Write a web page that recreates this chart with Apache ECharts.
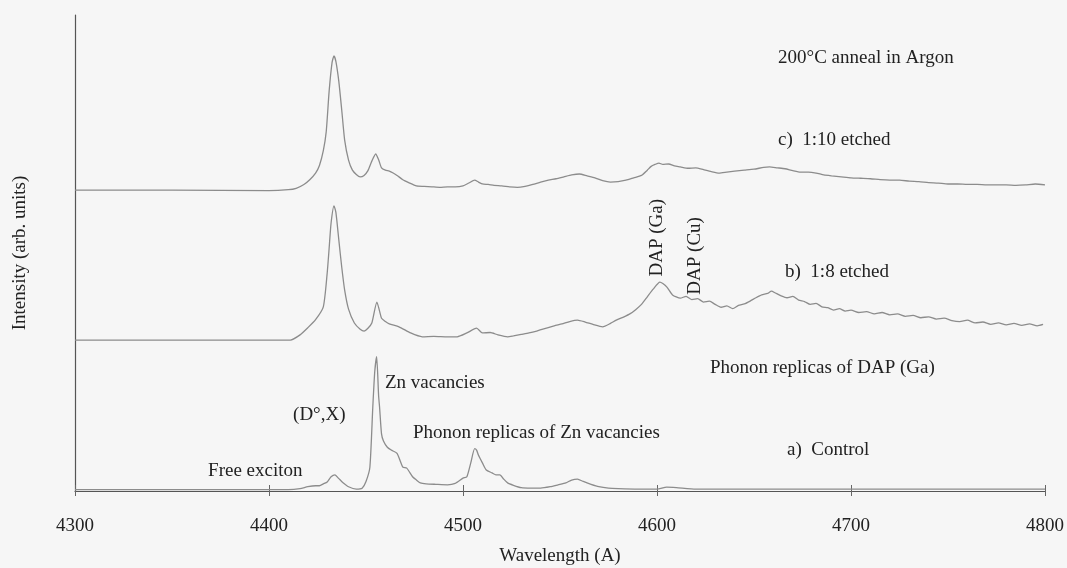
<!DOCTYPE html>
<html>
<head>
<meta charset="utf-8">
<script src="https://cdn.jsdelivr.net/npm/echarts@6/dist/echarts.min.js"></script>
<style>
html,body{margin:0;padding:0;background:#f6f6f6;}
#chart{width:1067px;height:568px;}
</style>
</head>
<body>
<div id="chart"></div>
<script>
// Wavelength (Å) and intensity (arb. units, offset per spectrum)
const cWave = [4300,4350,4400,4410,4414,4418,4421,4424,4426,4428,4429.5,4431,4432.5,4433.5,4434.5,4436,4437.5,4439,4441,4443,4445,4447,4449,4451,4453,4455,4456.5,4458,4460,4462,4464,4466,4469,4472,4476,4480,4484,4488,4492,4496,4500,4503,4506,4508,4510,4513,4516,4520,4524,4528,4532,4536,4540,4544,4548,4552,4556,4560,4564,4568,4572,4576,4580,4584,4588,4592,4595,4597,4599,4601,4603,4606,4609,4612,4616,4620,4624,4628,4632,4636,4640,4645,4650,4655,4658,4662,4666,4670,4674,4678,4682,4686,4690,4695,4700,4705,4710,4715,4720,4725,4730,4735,4740,4745,4750,4755,4760,4765,4770,4775,4780,4785,4790,4795,4800];
const cVal  = [63.2,63.2,63.1,63.3,63.6,64.4,65.4,66.8,68.4,71.5,75.5,84,90,91.4,90.2,86,80,73.7,69.5,67.4,66.5,66.0,66.3,67.3,69.3,70.8,69.6,67.9,67.4,67.2,66.8,66.3,65.4,64.8,64.1,64.0,63.9,63.8,63.9,63.9,64.1,64.7,65.3,64.9,64.5,64.4,64.2,64.1,63.9,63.8,64.0,64.4,64.9,65.3,65.6,66.0,66.4,66.6,66.2,65.8,65.2,64.9,65.0,65.3,65.8,66.3,67.4,68.2,68.6,68.9,68.6,68.7,68.3,68.1,67.8,67.9,67.5,67.1,66.8,67.0,67.2,67.4,67.6,68.0,68.1,67.9,67.7,67.3,67.0,67.0,66.8,66.4,66.2,66.0,65.8,65.7,65.6,65.4,65.3,65.3,65.1,65.0,64.8,64.7,64.5,64.5,64.4,64.4,64.3,64.3,64.3,64.2,64.3,64.5,64.3];

const bWave = [4300,4350,4400,4411,4416,4420,4424,4428,4430,4431,4432,4433.5,4434.5,4436,4437.5,4439,4441,4444,4447,4449,4451,4453,4455.6,4457,4458,4460,4462,4467,4473,4479,4485,4492,4497,4502,4507,4510,4514,4518,4523,4526,4530,4534,4538,4543,4547,4551,4555,4559,4563,4567,4572,4576,4579,4583,4586,4589,4592,4595,4598,4601.5,4603,4605,4608,4612,4615,4618,4621,4624,4627,4630,4633,4636,4639,4642,4645,4648,4651,4654,4657,4659,4661,4664,4667,4670,4673,4676,4679,4682,4685,4688,4691,4694,4697,4700,4704,4708,4712,4716,4720,4724,4728,4732,4736,4740,4744,4748,4752,4756,4760,4764,4768,4772,4776,4780,4784,4788,4792,4796,4799];
const bVal  = [31.7,31.7,31.7,31.7,32.8,34.3,36.0,38.7,45.8,51,56.3,59.9,58.5,52.7,47,42.2,38.2,35.3,34.0,33.6,34.2,35.3,39.7,37.8,36.3,35.6,35.1,34.5,33.2,32.4,32.5,32.4,32.4,33.2,34.2,33.2,33.3,32.8,32.4,32.6,32.9,33.2,33.6,34.2,34.7,35.1,35.6,35.9,35.5,35.0,34.5,35.2,35.9,36.6,37.2,38.1,39.2,40.8,42.4,43.9,43.6,42.9,41.2,40.5,40.9,40.2,40.4,39.7,39.9,39.2,38.6,38.9,38.3,39.0,39.3,39.9,40.6,41.2,41.5,42.0,41.6,41.0,40.6,40.9,40.1,39.8,39.2,39.4,38.7,38.5,38.0,38.3,37.8,38.0,37.5,37.7,37.2,37.5,37.0,37.2,36.7,36.9,36.4,36.6,36.1,36.3,35.8,35.6,35.9,35.3,35.5,35.0,35.3,34.9,35.2,34.8,35.1,34.7,35.0];

const aWave = [4300,4350,4410,4416,4420,4424,4426,4428,4430,4432,4434,4436,4438,4441,4445,4448,4450,4452,4453.5,4454.5,4455.5,4456.5,4457,4458,4459,4461,4463,4466,4469,4471,4474,4476,4478,4481,4486,4492,4496,4500,4502,4504,4506,4507,4508,4510,4512,4515,4517,4519,4521,4523,4526,4530,4535,4540,4545,4549,4553,4556,4559,4562,4566,4570,4575,4580,4590,4600,4605,4610,4620,4700,4800];
const aVal  = [0.3,0.3,0.3,0.5,0.9,1.1,1.1,1.5,1.9,3.0,3.4,2.6,1.8,0.9,0.4,0.6,2.0,5.0,17.6,25,28.2,20,17.6,12,10.5,9.2,8.6,7.9,5.0,4.8,3.0,2.3,1.7,1.5,1.4,1.3,1.6,2.7,3.0,5.9,8.9,8.6,7.5,5.9,4.4,3.8,3.4,3.4,2.5,1.7,1.2,0.7,0.6,0.6,0.9,1.3,1.7,2.3,2.5,2.0,1.4,0.9,0.6,0.5,0.4,0.4,0.8,0.7,0.4,0.4,0.4];

const xTicks = [4300,4400,4500,4600,4700,4800];

// annotation texts anchored at data coordinates [wavelength, intensity]
const noteText = ["200°C anneal in Argon","c)  1:10 etched","b)  1:8 etched","Phonon replicas of DAP (Ga)","a)  Control","Zn vacancies","Phonon replicas of Zn vacancies","(D°,X)","Free exciton"];
const noteWave = [4662.4,4662.4,4666,4627.3,4667,4459.8,4474.2,4412.4,4368.6];
const noteVal  = [91.0,73.7,46.0,25.8,8.6,22.7,12.2,16.0,4.2];
const vNoteText = ["DAP (Ga)","DAP (Cu)"];
const vNoteWave = [4600,4619.6];
const vNoteVal  = [53.2,49.4];

function pairs(w,v){return w.map((x,i)=>[x,v[i]]);}

const chart = echarts.init(document.getElementById('chart'));
const font = '"Liberation Serif","DejaVu Serif",serif';
const fs = 19;
const lineStyle = {color:'#8c8c8c', width:1.3};
function mk(name,w,v){return {name:name,type:'line',data:pairs(w,v),showSymbol:false,symbol:'none',smooth:0.2,lineStyle:lineStyle,animation:false,z:3};}

chart.setOption({
  backgroundColor:'#f6f6f6',
  animation:false,
  grid:{left:75,right:22,top:15,bottom:77,containLabel:false,outerBoundsMode:'none'},
  xAxis:[{
    type:'value',min:xTicks[0],max:xTicks[xTicks.length-1],interval:100,
    name:'Wavelength (A)',nameLocation:'middle',nameGap:56,
    nameTextStyle:{fontFamily:font,fontSize:fs,color:'#222'},
    axisLine:{lineStyle:{color:'#555',width:1.2}},
    axisTick:{show:true,length:5,lineStyle:{color:'#666'}},
    axisLabel:{fontFamily:font,fontSize:fs,color:'#222',margin:26,formatter:v=>String(v)},
    splitLine:{show:false}
  },{
    type:'value',min:xTicks[0],max:xTicks[xTicks.length-1],interval:100,position:'bottom',
    axisLine:{show:false},
    axisTick:{show:true,inside:true,length:6,lineStyle:{color:'#666'}},
    axisLabel:{show:false},splitLine:{show:false}
  }],
  yAxis:{
    type:'value',min:0,max:100,
    name:'Intensity (arb. units)',nameLocation:'middle',nameGap:45,nameRotate:90,
    nameTextStyle:{fontFamily:font,fontSize:fs,color:'#222'},
    axisLine:{show:true,lineStyle:{color:'#555',width:1.2}},
    axisTick:{show:false},axisLabel:{show:false},splitLine:{show:false}
  },
  series:[mk('c',cWave,cVal),mk('b',bWave,bVal),mk('a',aWave,aVal)]
});

const g = [];
noteText.forEach((t,i)=>{
  const p = chart.convertToPixel({xAxisIndex:0,yAxisIndex:0},[noteWave[i],noteVal[i]]);
  g.push({type:'text',x:p[0],y:p[1],style:{text:t,font:fs+'px '+font,fill:'#222',textVerticalAlign:'middle',textAlign:'left'},z:10});
});
vNoteText.forEach((t,i)=>{
  const p = chart.convertToPixel({xAxisIndex:0,yAxisIndex:0},[vNoteWave[i],vNoteVal[i]]);
  g.push({type:'text',x:p[0],y:p[1],rotation:Math.PI/2,style:{text:t,font:fs+'px '+font,fill:'#222',textVerticalAlign:'middle',textAlign:'center'},z:10});
});
chart.setOption({graphic:g});
</script>
</body>
</html>
